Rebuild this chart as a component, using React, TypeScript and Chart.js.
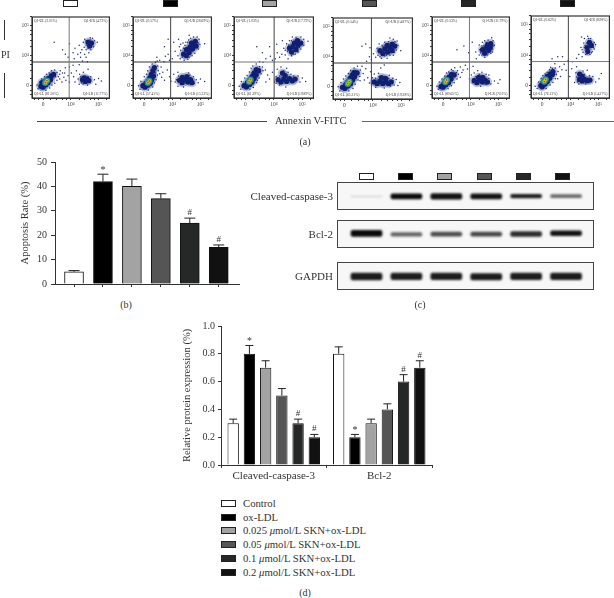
import React, { useEffect, useRef } from "react";
import { Chart, registerables } from "chart.js";

Chart.register(...registerables);

const SERIF = "'Liberation Serif', serif";
const TEXT = "#333";

// ---------- shared labels and colours ----------
const groupNames = ["Control", "ox-LDL", "0.025 μmol/L SKN+ox-LDL", "0.05 μmol/L SKN+ox-LDL", "0.1 μmol/L SKN+ox-LDL", "0.2 μmol/L SKN+ox-LDL"];
const groupColors = ["#ffffff", "#000000", "#a3a3a3", "#555555", "#262828", "#111111"];

// ---------- panel (b) ----------
const apoptosisValues = [5, 42, 40, 35, 25, 15];
const apoptosisTops = [5.5, 45, 43, 37, 27, 16];
const apoptosisMarks = ["", "*", "", "", "#", "#"];
const apoptosisTicks = [0, 10, 20, 30, 40, 50];

// ---------- panel (d) ----------
const proteinCategories = ["Cleaved-caspase-3", "Bcl-2"];
const proteinValues = [[0.3, 0.8], [0.8, 0.2], [0.7, 0.3], [0.5, 0.4], [0.3, 0.6], [0.2, 0.7]];
const proteinTops = [[0.33, 0.85], [0.86, 0.22], [0.75, 0.33], [0.55, 0.44], [0.33, 0.65], [0.22, 0.75]];
const proteinMarks = [["", ""], ["*", "*"], ["", ""], ["", ""], ["#", "#"], ["#", "#"]];

// ---------- panel (c) ----------
const blotNames = ["Cleaved-caspase-3", "Bcl-2", "GAPDH"];
const blotBands = [
  [[0.47, 0.5], [0.4, 0.58], [0.39, 0.59], [0.4, 0.58], [0.43, 0.56], [0.44, 0.55]],
  [[0.41, 0.63], [0.42, 0.55], [0.42, 0.57], [0.42, 0.57], [0.41, 0.59], [0.44, 0.61]],
  [[0.36, 0.6], [0.37, 0.6], [0.37, 0.6], [0.36, 0.59], [0.37, 0.6], [0.37, 0.6]],
];
const blotIntensity = [
  [0.14, 1, 0.97, 0.97, 0.92, 0.6],
  [1, 0.62, 0.72, 0.74, 0.86, 0.97],
  [0.93, 0.92, 0.92, 0.93, 0.92, 0.93],
];

// ---------- panel (a) ----------
const flowAxisTicks = [-0.3, -0.15, 0, 0.25, 0.5, 0.7, 0.85, 1, 1.3, 1.5, 1.7, 1.85, 2, 2.3];
const flowQuadX = [0.94, 0.94, 1.01, 0.95, 0.95, 0.93];
const flowQuadY = [0.79, 0.79, 0.79, 0.79, 0.79, 0.79];
const flowLabels = [
  ["Q1-UL (2.01%)", "Q1-UR (4.72%)", "Q1-LL (81.50%)", "Q1-LR (11.77%)"],
  ["Q1-UL (0.57%)", "Q1-UR (26.69%)", "Q1-LL (57.41%)", "Q1-LR (15.33%)"],
  ["Q1-UL (1.03%)", "Q1-UR (17.79%)", "Q1-LL (61.29%)", "Q1-LR (19.89%)"],
  ["Q1-UL (0.54%)", "Q1-UR (14.87%)", "Q1-LL (65.31%)", "Q1-LR (19.28%)"],
  ["Q1-UL (0.53%)", "Q1-UR (11.79%)", "Q1-LL (80.65%)", "Q1-LR (7.03%)"],
  ["Q1-UL (0.62%)", "Q1-UR (8.98%)", "Q1-LL (76.13%)", "Q1-LR (14.27%)"],
];
const flowCores = [
  [[0.08, 0.1], [0.14, 0.17]],
  [[0.13, 0.1], [0.18, 0.16]],
  [[0.13, 0.13], [0.18, 0.2]],
  [[0.12, 0.1], [0.17, 0.17]],
  [[0.08, 0.12], [0.13, 0.19]],
  [[0.07, 0.13], [0.12, 0.2]],
];
const flowDense = [
  [[-0.08, -0.02], [0, -0.05], [0.02, 0.08], [0.1, 0.03], [0.1, 0.16], [0.18, 0.1], [0.18, 0.24], [0.27, 0.2], [0.3, 0.33], [0.38, 0.38], [-0.04, 0.1], [1.42, 0.2], [1.52, 0.14], [1.58, 0.22], [1.48, 0.26], [1.65, 0.17], [1.68, 1.32], [1.75, 1.42], [1.62, 1.45]],
  [[-0.05, 0], [0.03, -0.05], [0.06, 0.08], [0.13, 0.02], [0.15, 0.15], [0.22, 0.08], [0.2, 0.26], [0.27, 0.2], [0.25, 0.38], [0.33, 0.32], [0.31, 0.5], [0.36, 0.6], [1.25, 0.18], [1.35, 0.1], [1.45, 0.2], [1.55, 0.12], [1.65, 0.2], [1.35, 0.28], [1.52, 0.3], [1.7, 0.1], [1.4, 1.05], [1.5, 1.2], [1.6, 1.1], [1.62, 1.28], [1.72, 1.22], [1.75, 1.38], [1.85, 1.32], [1.68, 1.42], [1.82, 1.48], [1.5, 1.0]],
  [[-0.05, 0], [0.04, -0.04], [0.07, 0.1], [0.15, 0.04], [0.16, 0.19], [0.24, 0.12], [0.23, 0.3], [0.31, 0.24], [0.3, 0.42], [0.38, 0.36], [0.38, 0.54], [0.47, 0.5], [1.15, 0.2], [1.25, 0.12], [1.35, 0.22], [1.45, 0.14], [1.55, 0.24], [1.65, 0.16], [1.75, 0.22], [1.4, 0.34], [1.3, 0.42], [1.62, 1.12], [1.55, 1.25], [1.67, 1.3], [1.78, 1.2], [1.85, 1.35], [1.72, 1.42], [1.83, 1.5], [1.95, 1.42]],
  [[-0.07, -0.02], [0.02, -0.06], [0.05, 0.08], [0.13, 0.02], [0.13, 0.17], [0.22, 0.1], [0.2, 0.28], [0.29, 0.22], [0.27, 0.39], [0.36, 0.33], [0.34, 0.48], [0.45, 0.46], [1.05, 0.16], [1.15, 0.1], [1.25, 0.18], [1.35, 0.1], [1.45, 0.17], [1.55, 0.1], [1.65, 0.16], [1.3, 0.3], [1.45, 0.28], [1.25, 1.2], [1.35, 1.1], [1.42, 1.26], [1.52, 1.15], [1.6, 1.3], [1.68, 1.2], [1.5, 1.38], [1.68, 1.42], [1.77, 1.35]],
  [[-0.08, -0.03], [0, -0.05], [0.03, 0.08], [0.1, 0.03], [0.11, 0.18], [0.2, 0.1], [0.2, 0.28], [0.29, 0.22], [0.3, 0.38], [0.4, 0.36], [1.12, 0.17], [1.22, 0.1], [1.32, 0.2], [1.42, 0.12], [1.52, 0.18], [1.28, 0.28], [1.43, 0.28], [1.6, 0.12], [1.5, 1.08], [1.42, 1.2], [1.55, 1.25], [1.65, 1.18], [1.6, 1.36], [1.72, 1.4], [1.7, 1.28]],
  [[-0.05, 0], [0, -0.04], [0.03, 0.1], [0.1, 0.05], [0.1, 0.2], [0.18, 0.13], [0.18, 0.3], [0.27, 0.24], [0.28, 0.38], [0.36, 0.36], [0.38, 0.46], [1.32, 0.2], [1.42, 0.15], [1.5, 0.2], [1.6, 0.16], [1.42, 0.3], [1.33, 0.38], [1.7, 0.18], [1.6, 1.25], [1.68, 1.42], [1.75, 1.32], [1.62, 1.12]],
];
const flowSparse = [
  [[-0.22, 0.02], [-0.18, -0.1], [-0.12, 0.12], [-0.05, 0.22], [0.05, 0.3], [0.12, 0.38], [0.22, 0.42], [0.3, 0.5], [0.42, 0.52], [0.5, 0.44], [0.55, 0.3], [0.5, 0.18], [0.42, 0.08], [0.32, 0.02], [0.24, -0.08], [0.1, -0.15], [0.62, 0.5], [0.7, 0.42], [0.75, 0.28], [0.68, 0.12], [0.82, 0.18], [0.9, 0.33], [0.95, 0.12], [1.02, 0.42], [1.1, 0.3], [1.15, 0.12], [1.2, 0.5], [1.26, 0.22], [1.3, 0.05], [1.32, 0.38], [1.6, 0.02], [1.72, 0.3], [1.85, 0.2], [1.9, 0.05], [2, 0.24], [2.1, 0.16], [1.45, 0.45], [1.62, 0.55], [0.8, 0.6], [1.08, 0.68], [1.3, 0.7], [0.95, 0.62], [1.12, 0.9], [1.25, 1.05], [1.35, 0.95], [1.4, 1.2], [1.5, 1.05], [1.55, 1.2], [1.58, 1.35], [1.45, 1.45], [1.5, 1.55], [1.65, 1.1], [1.72, 1.2], [1.82, 1.3], [1.85, 1.5], [1.78, 1.58], [1.7, 1.6], [1.3, 1.35], [1.15, 1.25], [0.4, 1.45], [0.7, 1.2], [0.8, 1.05], [0.9, 0.95], [0.95, 1.4], [1.08, 1.1], [1.95, 1.45], [1.6, 0.8], [1.42, 0.82],
   [1.38, 0.1], [1.44, 0.06], [1.36, 0.3], [1.62, 0.3], [1.7, 0.1], [0.45, 0.3], [0.6, 0.22], [0.78, 0.42], [1.55, 1.5], [1.62, 1.25], [1.7, 1.52], [1.55, 0.95], [1.48, 1.28], [1.35, 1.1], [1.8, 1.42], [0.6, 0.38]],
  [[-0.2, 0], [-0.15, -0.12], [-0.12, 0.15], [0, 0.3], [0.08, 0.38], [0.12, 0.5], [0.18, 0.62], [0.28, 0.72], [0.4, 0.78], [0.48, 0.66], [0.5, 0.5], [0.47, 0.36], [0.42, 0.2], [0.36, 0.1], [0.3, -0.04], [0.15, -0.14], [0.6, 0.62], [0.66, 0.45], [0.62, 0.28], [0.72, 0.18], [0.82, 0.52], [0.9, 0.3], [0.95, 0.15], [1.05, 0.38], [1.1, 0.12], [1.2, 0.45], [1.2, -0.02], [1.4, -0.04], [1.58, 0.42], [1.75, 0.3], [1.85, 0.2], [1.92, 0.1], [2, 0.22], [2.15, 0.14], [0.45, 0.95], [0.55, 0.85], [0.7, 0.8], [0.75, 0.98], [0.85, 1.05], [0.9, 0.85], [1, 0.9], [1.1, 1.15], [1.2, 1.0], [1.25, 1.3], [1.28, 0.9], [1.3, 1.18], [1.38, 1.42], [1.42, 0.85], [1.45, 1.35], [1.55, 0.88], [1.58, 1.52], [1.7, 1.0], [1.8, 1.08], [1.92, 1.22], [1.98, 1.38], [1.95, 1.55], [1.88, 1.62], [1.75, 1.62], [1.6, 1.68], [1.05, 1.45], [0.85, 1.55], [0.72, 1.3], [2.15, 1.4], [1.22, 1.55],
   [1.15, 0.2], [1.22, 0.32], [1.3, 0.04], [1.78, 0.08], [1.62, 0.36], [0.4, 0.42], [0.55, 0.4], [0.46, 0.82], [1.35, 0.95], [1.4, 1.25], [1.3, 1.38], [1.48, 1.45], [1.6, 0.95], [1.55, 1.45], [1.92, 1.42], [1.65, 1.58]],
  [[-0.22, -0.02], [-0.16, -0.12], [-0.14, 0.14], [-0.02, 0.26], [0.06, 0.34], [0.14, 0.46], [0.2, 0.58], [0.26, 0.66], [0.38, 0.72], [0.5, 0.8], [0.62, 0.78], [0.6, 0.62], [0.55, 0.4], [0.48, 0.26], [0.4, 0.1], [0.28, -0.06], [0.16, -0.12], [0.7, 0.52], [0.78, 0.36], [0.72, 0.12], [0.85, 0.22], [0.95, 0.45], [1.02, 0.12], [1.08, 0.3], [1.12, 0.55], [1.2, 0.02], [1.42, -0.04], [1.6, 0.38], [1.25, 0.62], [1.45, 0.58], [1.85, 0.32], [1.92, 0.12], [2, 0.26], [2.12, 0.14], [0.72, 0.9], [0.88, 0.98], [0.95, 0.85], [1.05, 0.9], [1.12, 1.1], [1.2, 0.95], [1.28, 1.05], [1.35, 1.25], [1.4, 1.02], [1.45, 1.4], [1.5, 0.9], [1.55, 1.5], [1.68, 1.05], [1.85, 1.12], [1.95, 1.22], [2.05, 1.35], [2.05, 1.55], [1.95, 1.62], [1.78, 1.6], [1.65, 1.62], [1.3, 1.5], [1.1, 1.38], [0.85, 1.3], [0.6, 1.1], [0.4, 1.3], [2.2, 1.48],
   [1.08, 0.08], [1.2, 0.32], [1.5, 0.45], [1.35, 0.5], [1.7, 0.32], [0.62, 0.5], [0.5, 0.64], [0.42, 0.18], [1.48, 1.15], [1.52, 1.36], [1.62, 1.5], [1.9, 1.28], [1.75, 1.05], [1.4, 1.18], [1.9, 1.52], [1.62, 1.0]],
  [[-0.22, 0], [-0.16, -0.14], [-0.12, 0.14], [-0.03, 0.26], [0.05, 0.36], [0.14, 0.44], [0.22, 0.54], [0.34, 0.62], [0.46, 0.68], [0.56, 0.56], [0.54, 0.34], [0.48, 0.22], [0.38, 0.08], [0.3, -0.06], [0.16, -0.14], [0.66, 0.44], [0.7, 0.22], [0.62, 0.68], [0.75, 0.6], [0.82, 0.3], [0.88, 0.12], [0.92, 0.5], [0.98, 0.3], [1.05, 0.42], [1.2, 0.45], [1.28, 0.62], [1.1, -0.02], [1.4, -0.04], [1.58, 0.38], [1.75, 0.06], [1.82, 0.24], [1.95, 0.14], [1.88, 0.04], [0.78, 0.85], [0.88, 1.0], [0.95, 0.9], [1.02, 1.1], [1.1, 0.98], [1.15, 1.28], [1.18, 1.05], [1.22, 1.42], [1.3, 0.95], [1.32, 1.38], [1.42, 1.02], [1.5, 0.95], [1.42, 1.48], [1.55, 1.5], [1.72, 1.05], [1.82, 1.22], [1.88, 1.38], [1.85, 1.52], [1.72, 1.58], [1.6, 1.62], [0.75, 1.42], [0.62, 1.35], [0.9, 1.3], [1.98, 1.2], [1.4, 0.72],
   [0.98, 0.1], [1.1, 0.28], [1.22, 0.34], [1.55, 0.28], [1.7, 0.28], [1.62, 0.02], [0.45, 0.52], [0.55, 0.2], [1.25, 1.0], [1.35, 1.35], [1.6, 1.05], [1.48, 1.05], [1.75, 1.15], [1.55, 1.42], [1.78, 1.5], [1.3, 1.22]],
  [[-0.22, -0.02], [-0.17, -0.12], [-0.14, 0.12], [-0.04, 0.22], [0.06, 0.32], [0.12, 0.42], [0.2, 0.46], [0.3, 0.54], [0.42, 0.6], [0.52, 0.5], [0.55, 0.38], [0.5, 0.22], [0.4, 0.1], [0.3, 0], [0.18, -0.1], [0.62, 0.62], [0.68, 0.44], [0.62, 0.28], [0.72, 0.52], [0.8, 0.68], [0.88, 0.56], [0.95, 0.22], [1.02, 0.36], [1.05, 0.1], [1.12, 0.42], [1.25, 0.5], [1.4, 0.45], [1.55, 0.38], [1.65, 0.24], [1.72, 0.06], [1.85, 0.16], [2.05, 0.2], [1.98, 0.08], [1.35, -0.02], [1.08, 0.65], [1.2, 0.9], [1.3, 1.02], [1.32, 1.2], [1.3, 1.36], [1.4, 1.02], [1.42, 1.45], [1.5, 0.95], [1.5, 1.5], [1.6, 1.02], [1.62, 1.52], [1.72, 1.08], [1.78, 1.22], [1.8, 1.5], [1.85, 1.35], [1.75, 1.6], [0.92, 1.1], [0.75, 1.32], [0.5, 1.2], [1.05, 1.45], [1.18, 1.12],
   [1.08, 0.22], [1.18, 0.3], [1.3, 0.38], [1.55, 0.04], [1.65, 0.36], [0.45, 0.32], [0.48, 0.44], [0.36, 0.5], [1.4, 1.32], [1.35, 1.1], [1.55, 1.45], [1.62, 1.1], [1.78, 1.12], [1.48, 1.32], [1.58, 1.42], [1.8, 1.32]],
  [[-0.25, -0.02], [-0.18, -0.1], [-0.13, 0.12], [-0.04, 0.24], [0.02, 0.32], [0.1, 0.38], [0.18, 0.44], [0.26, 0.52], [0.36, 0.56], [0.46, 0.58], [0.5, 0.36], [0.47, 0.22], [0.38, 0.1], [0.28, 0.02], [0.14, -0.1], [0.56, 0.46], [0.62, 0.62], [0.65, 0.3], [0.7, 0.52], [0.78, 0.7], [0.85, 0.5], [0.98, 0.3], [1.05, 0.55], [1.15, 0.1], [1.22, 0.28], [1.22, 0.62], [1.3, 0.05], [1.45, 0.48], [1.6, 0.5], [1.8, 0.3], [1.9, 0.12], [2.1, 0.4], [2.02, 0.22], [0.55, 0.95], [0.45, 0.72], [0.72, 0.95], [0.35, 0.88], [1.22, 0.9], [1.3, 1.02], [1.38, 1.25], [1.42, 0.95], [1.45, 1.1], [1.48, 1.4], [1.5, 1.55], [1.55, 1.02], [1.58, 1.4], [1.62, 1.62], [1.72, 1.55], [1.78, 1.12], [1.82, 1.25], [1.85, 1.42], [1.7, 1.02], [1.08, 0.78], [0.92, 0.82], [1.4, 1.6],
   [1.25, 0.12], [1.2, 0.42], [1.5, 0.36], [1.55, 0.05], [1.68, 0.32], [0.55, 0.22], [0.42, 0.45], [0.3, 0.6], [1.5, 1.25], [1.6, 1.05], [1.52, 1.32], [1.42, 1.18], [1.65, 1.55], [1.85, 1.2], [1.75, 1.08], [1.9, 1.35]],
];

// ---------- layout of every piece, in page pixels ----------
const flowBoxes = [
  { l: 32, t: 17, w: 81, h: 81 },
  { l: 133, t: 17, w: 82, h: 81 },
  { l: 234, t: 17, w: 83, h: 81 },
  { l: 333, t: 18, w: 83, h: 81 },
  { l: 432, t: 17, w: 81, h: 81 },
  { l: 531, t: 16, w: 82, h: 82 },
];
const topSwatchX = [63, 163, 262, 362, 461, 560];
const blotSwatchX = [359, 398, 437, 477, 516, 555];
const blotRowsTop = [182, 220, 262];
const legendRowsY = [503, 517, 530, 544, 558, 572];

type PlotProps = { x: number; y: number; w: number; h: number; config: () => any; filter?: string };

function Plot({ x, y, w, h, config, filter }: PlotProps) {
  const ref = useRef<HTMLCanvasElement | null>(null);
  useEffect(() => {
    const chart = new Chart(ref.current as HTMLCanvasElement, config());
    return () => chart.destroy();
  }, []);
  return <canvas ref={ref} width={w} height={h} style={{ position: "absolute", left: x, top: y, width: w, height: h, filter }} />;
}

function Txt({ x, y, size = 10, align = "left", children }: any) {
  const base: any = { position: "absolute", top: y, fontFamily: SERIF, fontSize: size, color: TEXT, whiteSpace: "nowrap", lineHeight: 1, transform: "translateY(-50%)" };
  if (align === "right") base.right = 614 - x;
  else if (align === "center") { base.left = x; base.transform = "translate(-50%,-50%)"; }
  else base.left = x;
  return <div style={base}>{children}</div>;
}

function Rect({ x, y, w, h, bg, border }: any) {
  return <div style={{ position: "absolute", left: x, top: y, width: w, height: h, boxSizing: "border-box", background: bg, border: border ? `1px solid ${border}` : undefined }} />;
}

const errorPlugin = (tops: number[][], marks: string[][], cap: number) => ({
  id: "errors",
  afterDatasetsDraw(chart: any) {
    const ctx = chart.ctx;
    const yScale = chart.scales.y;
    chart.data.datasets.forEach((_: any, d: number) => {
      chart.getDatasetMeta(d).data.forEach((bar: any, i: number) => {
        const yTop = yScale.getPixelForValue(tops[d][i]);
        ctx.save();
        ctx.strokeStyle = "#222";
        ctx.lineWidth = 1;
        ctx.beginPath();
        ctx.moveTo(bar.x, bar.y);
        ctx.lineTo(bar.x, yTop);
        ctx.moveTo(bar.x - cap, yTop);
        ctx.lineTo(bar.x + cap, yTop);
        ctx.stroke();
        const mark = marks[d][i];
        if (mark) {
          ctx.fillStyle = TEXT;
          ctx.textAlign = "center";
          ctx.textBaseline = "alphabetic";
          ctx.font = `${mark === "*" ? 10 : 9}px ${SERIF}`;
          ctx.fillText(mark, bar.x, yTop + (mark === "*" ? -1 : -3));
        }
        ctx.restore();
      });
    });
  },
});

const baseOptions = (top: number, right: number) => ({
  responsive: false,
  maintainAspectRatio: false,
  animation: false,
  layout: { padding: { top, right, left: 0, bottom: 0 } },
  plugins: { legend: { display: false }, tooltip: { enabled: false } },
});

const flowConfig = (p: number) => () => {
  const q = flowLabels[p];
  const tickStyle = {
    autoSkip: false,
    maxRotation: 0,
    padding: 1,
    color: "#444",
    font: { family: SERIF, size: 5.5 },
    callback: (v: number) => (v === 0 ? "0" : v === 1 ? "10⁴" : v === 2 ? "10⁵" : ""),
  };
  const setTicks = (s: any) => { s.ticks = flowAxisTicks.map((value) => ({ value })); };
  const sets = (data: number[][], color: string, radius: number) => ({
    data: data.map(([x, y]) => ({ x, y })),
    pointRadius: radius,
    pointBackgroundColor: color,
    pointBorderWidth: 0,
    showLine: false,
  });
  return {
    type: "scatter",
    data: {
      datasets: [
        { data: [{ x: flowQuadX[p], y: -0.41 }, { x: flowQuadX[p], y: 2.29 }], showLine: true, pointRadius: 0, borderColor: p === 0 || p === 4 ? "#777" : "#444", borderWidth: 1, order: 0 },
        { data: [{ x: -0.4, y: flowQuadY[p] }, { x: 2.39, y: flowQuadY[p] }], showLine: true, pointRadius: 0, borderColor: p === 2 || p === 5 ? "#777" : "#333", borderWidth: 1, order: 0 },
        { ...sets(flowCores[p], "#ee3322", 0.9), order: 1 },
        { ...sets(flowCores[p], "#e8d820", 1.5), order: 2 },
        { ...sets(flowCores[p], "#30b060", 2.3), order: 3 },
        { ...sets(flowCores[p], "#1890b0", 3.2), order: 4 },
        { ...sets(flowDense[p], "#101f70", 2.6), order: 5 },
        { ...sets(flowDense[p], "rgba(40,55,140,0.3)", 4.6), order: 6 },
        { ...sets(flowSparse[p], "#1c2a80", 0.75), order: 7 },
      ],
    },
    options: {
      ...baseOptions(5, 1),
      scales: {
        x: {
          type: "linear", min: -0.4, max: 2.39, afterBuildTicks: setTicks,
          afterFit: (s: any) => { s.height = 16; },
          grid: { drawOnChartArea: false, tickLength: 2, color: "#333" },
          border: { color: "#333" }, ticks: tickStyle,
        },
        y: {
          type: "linear", min: -0.41, max: 2.29, afterBuildTicks: setTicks,
          afterFit: (s: any) => { s.width = 22; },
          grid: { drawOnChartArea: false, tickLength: 2, color: "#333" },
          border: { color: "#333" }, ticks: tickStyle,
        },
      },
    },
    plugins: [{
      id: "quadText",
      afterDraw(chart: any) {
        const { ctx, chartArea: a } = chart;
        ctx.save();
        ctx.strokeStyle = "#333";
        ctx.lineWidth = 1.2;
        ctx.strokeRect(a.left, a.top, a.right - a.left, a.bottom - a.top);
        ctx.fillStyle = "#333";
        ctx.font = `3.6px ${SERIF}`;
        ctx.textBaseline = "middle";
        ctx.textAlign = "left";
        ctx.fillText(q[0], a.left + 2, a.top + 4);
        ctx.fillText(q[2], a.left + 2, a.bottom - 4);
        ctx.textAlign = "right";
        ctx.fillText(q[1], a.right - 2, a.top + 4);
        ctx.fillText(q[3], a.right - 2, a.bottom - 4);
        ctx.restore();
      },
    }],
  };
};

const apoptosisConfig = () => ({
  type: "bar",
  data: {
    datasets: [{
      data: apoptosisValues.map((y, x) => ({ x, y })),
      backgroundColor: groupColors,
      borderColor: "#111",
      borderWidth: 1,
      barThickness: 19,
    }],
  },
  options: {
    ...baseOptions(12, 6),
    scales: {
      x: {
        type: "linear", min: -0.657, max: 5.7, offset: false,
        afterBuildTicks: (s: any) => { s.ticks = apoptosisValues.map((_, value) => ({ value })); },
        afterFit: (s: any) => { s.height = 11; },
        grid: { drawOnChartArea: false, offset: false, tickLength: 3, color: "#333" },
        border: { color: "#333" },
        ticks: { display: true, callback: () => "", padding: 0 },
      },
      y: {
        type: "linear", min: 0, max: 50,
        afterBuildTicks: (s: any) => { s.ticks = apoptosisTicks.map((value) => ({ value })); },
        afterFit: (s: any) => { s.width = 55; },
        grid: { drawOnChartArea: false, tickLength: 4, color: "#333" },
        border: { color: "#333" },
        ticks: { color: TEXT, padding: 4, font: { family: SERIF, size: 10 } },
        title: { display: true, text: "Apoptosis Rate (%)", color: TEXT, font: { family: SERIF, size: 10.5 }, padding: { top: 19, bottom: 0 } },
      },
    },
  },
  plugins: [errorPlugin([apoptosisTops], [apoptosisMarks], 5.5)],
});

const proteinConfig = () => ({
  type: "bar",
  data: {
    labels: proteinCategories,
    datasets: groupNames.map((label, i) => ({
      label,
      data: proteinValues[i],
      backgroundColor: groupColors[i],
      borderColor: "#111",
      borderWidth: 1,
      categoryPercentage: 0.9227,
      barPercentage: 0.7,
    })),
  },
  options: {
    ...baseOptions(10, 8),
    scales: {
      x: {
        afterFit: (s: any) => { s.height = 20; },
        grid: { drawOnChartArea: false, tickLength: 3, color: "#333" },
        border: { color: "#333" },
        ticks: { color: TEXT, padding: 2, autoSkip: false, maxRotation: 0, font: { family: SERIF, size: 11 } },
      },
      y: {
        type: "linear", min: 0, max: 1,
        afterBuildTicks: (s: any) => { s.ticks = [0, 0.2, 0.4, 0.6, 0.8, 1].map((value) => ({ value })); },
        afterFit: (s: any) => { s.width = 51; },
        grid: { drawOnChartArea: false, tickLength: 3, color: "#333" },
        border: { color: "#333" },
        ticks: { color: TEXT, padding: 3, font: { family: SERIF, size: 10 }, callback: (v: number) => v.toFixed(1) },
        title: { display: true, text: "Relative protein expression (%)", color: TEXT, font: { family: SERIF, size: 10.5 }, padding: { top: 11, bottom: 0 } },
      },
    },
  },
  plugins: [errorPlugin(proteinTops, proteinMarks, 4)],
});

const blotConfig = (row: number) => () => ({
  type: "bar",
  data: {
    datasets: [{
      data: blotBands[row].map((y, x) => ({ x, y })),
      backgroundColor: blotIntensity[row].map((v) => `rgba(10,10,10,${v})`),
      borderSkipped: false,
      borderRadius: 2,
      barThickness: 31,
    }],
  },
  options: {
    ...baseOptions(0, 0),
    scales: {
      x: { type: "linear", min: -0.739, max: 5.7, offset: false, display: false },
      y: { type: "linear", min: 0, max: 1, display: false },
    },
  },
});

export default function App() {
  return (
    <div style={{ position: "fixed", left: 0, top: 0, width: 614, height: 598, overflow: "hidden", background: "#fff" }}>
      {/* (a) */}
      {topSwatchX.map((x, i) => <Rect key={i} x={x} y={0} w={15} h={7} bg={groupColors[i]} border="#222" />)}
      {flowBoxes.map((b, i) => (
        <Plot key={i} x={b.l - 22} y={b.t - 5} w={b.w + 23} h={b.h + 21} config={flowConfig(i)} filter="blur(0.4px)" />
      ))}
      <Rect x={4} y={20} w={1} h={20} bg="#333" />
      <Rect x={4} y={73} w={1} h={25} bg="#333" />
      <Txt x={1} y={55} size={10}>PI</Txt>
      <Rect x={37} y={121} w={230} h={1} bg="#444" />
      <Rect x={362} y={121} w={252} h={1} bg="#666" />
      <Txt x={275} y={121} size={10.5}>Annexin V-FITC</Txt>
      <Txt x={305} y={142} align="center" size={10}>(a)</Txt>

      {/* (b) */}
      <Plot x={0} y={150} w={245} h={145} config={apoptosisConfig} />
      <Txt x={126} y={305} align="center" size={10}>(b)</Txt>

      {/* (c) */}
      {blotSwatchX.map((x, i) => <Rect key={i} x={x} y={173} w={15} h={7} bg={groupColors[i]} border="#222" />)}
      {blotNames.map((name, i) => (
        <React.Fragment key={name}>
          <Txt x={333} y={blotRowsTop[i] + 14} align="right" size={11}>{name}</Txt>
          <div style={{ position: "absolute", left: 337, top: blotRowsTop[i], width: 257, height: 28, background: "#f7f7f7", overflow: "hidden" }}>
            <Plot x={0} y={0} w={257} h={28} config={blotConfig(i)} filter="blur(0.8px)" />
          </div>
          <div style={{ position: "absolute", left: 337, top: blotRowsTop[i], width: 257, height: 28, boxSizing: "border-box", border: "1px solid #444" }} />
        </React.Fragment>
      ))}
      <Txt x={420} y={305} align="center" size={10}>(c)</Txt>

      {/* (d) */}
      <Plot x={170} y={316} w={270} h={169} config={proteinConfig} />
      {groupNames.map((name, i) => (
        <React.Fragment key={name}>
          <Rect x={221} y={legendRowsY[i] - 3} w={15} h={6.5} bg={groupColors[i]} border="#222" />
          <Txt x={243} y={legendRowsY[i]} size={10.7}>
            {name.includes("μ") ? <>{name.split("μ")[0]}<i>μ</i>{name.split("μ")[1]}</> : name}
          </Txt>
        </React.Fragment>
      ))}
      <Txt x={305} y={593} align="center" size={10}>(d)</Txt>
    </div>
  );
}
